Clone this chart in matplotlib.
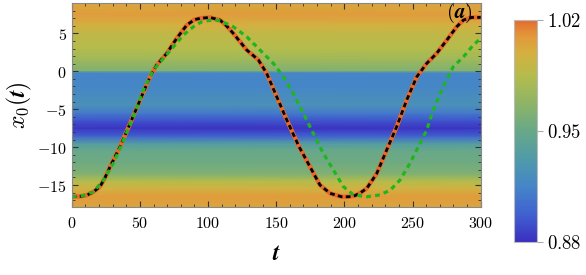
import numpy as np
import matplotlib
matplotlib.use("Agg")
import matplotlib.pyplot as plt
from matplotlib.colors import LinearSegmentedColormap
from matplotlib.ticker import MultipleLocator, FuncFormatter

plt.rcParams["mathtext.fontset"] = "cm"
plt.rcParams["font.family"] = "serif"

# trajectory x0(t)
t_main = [0, 6, 11, 16, 20.8, 24.5, 28.1, 35.4, 42.8, 50.1, 57.4, 62.3, 69.7, 77,
          84.4, 90, 94.1, 101.4, 108.8, 113.5, 118.5, 128.4, 136.9, 143, 150.4,
          157.7, 166.8, 174.8, 182.1, 189.5, 198, 203, 207.8, 212, 216.4, 223.7,
          231, 238.4, 245.7, 253.1, 260.4, 267.7, 275.1, 282.4, 287.3, 293.4, 300]
x_main = [-16.55, -16.5, -16.35, -15.9, -15.2, -14.0, -12.6, -9.96, -6.9, -3.8,
          -0.73, 0.82, 2.36, 4.34, 6.1, 6.8, 6.98, 7.1, 6.75, 6.0, 5.0, 2.8, 1.5,
          -0.28, -3.36, -6.4, -9.96, -12.6, -15.0, -16.1, -16.55, -16.55, -16.4,
          -16.0, -15.45, -13.5, -10.4, -7.3, -3.8, -0.73, 1.04, 2.36, 4.1, 5.87,
          6.75, 7.1, 7.1]

t_green = [0, 8, 15.9, 23.2, 30.5, 37.9, 45.2, 52.5, 59.9, 67.2, 74.5, 81.9, 89.2,
           95, 99, 104, 108.8, 118.5, 128.4, 138.1, 147.9, 155.2, 162.5, 167.5,
           172, 177.2, 184.5, 191.9, 199.2, 206.6, 216.4, 226.1, 233.5, 240.8,
           248.1, 255.5, 260.4, 265.2, 272.6, 279.9, 287.3, 294.6, 300]
x_green = [-16.55, -16.4, -15.9, -14.35, -12.15, -9.1, -6.0, -2.5, 0.16, 1.7, 3.2,
           4.78, 5.87, 6.5, 6.66, 6.75, 6.66, 5.87, 4.55, 2.8, 1.04, -0.73, -2.9,
           -4.7, -6.3, -8.2, -10.8, -13.0, -15.2, -16.3, -16.55, -16.3, -15.7,
           -14.35, -12.15, -9.5, -7.76, -5.1, -2.0, 0.6, 1.9, 3.46, 4.34]

# background profile along x0 (value vs position)
bg_x0 = [-18.0, -16.5, -15.5, -14.5, -13.5, -12.0, -10.5, -9.5, -8.5, -7.5, -6.5,
         -5.5, -4.5, -3.5, -2.0, -0.2, 0.1, 0.5, 1.5, 3.0, 5.0, 6.0, 7.5, 9.0]
bg_val = [1.004, 1.008, 0.998, 0.985, 0.962, 0.953, 0.95, 0.935, 0.897, 0.882,
          0.893, 0.91, 0.924, 0.922, 0.916, 0.915, 0.963, 0.965, 0.975, 0.985,
          0.99, 0.998, 1.008, 1.003]

cbar_ticks = [0.88, 0.95, 1.02]

cmap = LinearSegmentedColormap.from_list("rainbowish", [
    (0.00, "#3a2fbf"), (0.12, "#4060d0"), (0.25, "#4585c8"), (0.37, "#4f9aaa"),
    (0.50, "#68a888"), (0.62, "#8cb468"), (0.75, "#b4bc4c"), (0.85, "#d4b040"),
    (0.93, "#e2983a"), (1.00, "#e46c30")])

fig = plt.figure(figsize=(5.86, 2.75), dpi=100)
ax = fig.add_axes([0.1224, 0.2473, 0.6979, 0.7417])
cax = fig.add_axes([0.877, 0.12, 0.0387, 0.807])

X, Y = np.meshgrid([0, 300], bg_x0)
C = np.tile(np.array(bg_val)[:, None], (1, 2))
mesh = ax.pcolormesh(X, Y, C, shading="gouraud", cmap=cmap, vmin=0.88, vmax=1.02,
                     rasterized=True)

ax.plot(t_main, x_main, color="#e8692a", lw=3.2, solid_capstyle="round")
ax.plot(t_main, x_main, color="black", lw=2.0, dashes=(1.7, 1.2))
ax.plot(t_green, x_green, color="#1fb51f", lw=2.3, dashes=(1.5, 1.3))

ax.set_xlim(0, 300)
ax.set_ylim(-17.9, 9.0)
ax.xaxis.set_major_locator(MultipleLocator(50))
ax.xaxis.set_minor_locator(MultipleLocator(10))
ax.yaxis.set_major_locator(MultipleLocator(5))
ax.yaxis.set_minor_locator(MultipleLocator(1))
fmt = FuncFormatter(lambda v, p: r"$%d$" % round(v))
ax.xaxis.set_major_formatter(fmt)
ax.yaxis.set_major_formatter(fmt)
ax.tick_params(which="both", direction="in", top=True, right=True, color="#333333",
               labelsize=11.5)
ax.tick_params(which="major", length=4, width=0.8)
ax.tick_params(which="minor", length=2, width=0.6)
ax.tick_params(axis="x", pad=6)
for s in ax.spines.values():
    s.set_color("#888888")
    s.set_linewidth(0.8)

ax.set_xlabel(r"$\boldsymbol{t}$", fontsize=17, labelpad=7)
ax.set_ylabel(r"$\boldsymbol{x_0(t)}$", fontsize=17, labelpad=2)
ax.text(0.947, 0.953, r"$\boldsymbol{(a)}$", transform=ax.transAxes, fontsize=15,
        ha="center", va="center")

cb = fig.colorbar(mesh, cax=cax, ticks=cbar_ticks)
cb.ax.yaxis.set_major_formatter(FuncFormatter(lambda v, p: r"$%.2f$" % v))
cb.ax.tick_params(labelsize=13.5, length=4, color="#aaaaaa", width=0.8)
cb.outline.set_edgecolor("#bbbbbb")
cb.outline.set_linewidth(0.8)

fig.savefig("out.png", dpi=100)
